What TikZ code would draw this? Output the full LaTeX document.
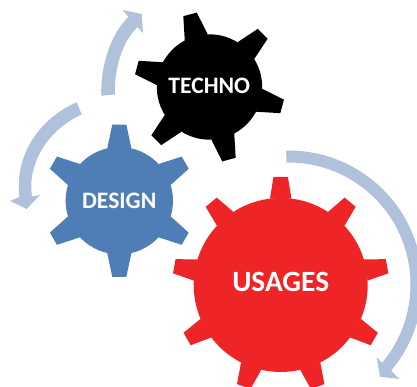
\documentclass[tikz,border=0pt]{standalone}
\usepackage{fontspec}
\setmainfont{Carlito}
\definecolor{gearblue}{HTML}{4F7EB6}
\definecolor{gearred}{HTML}{EE2426}
\definecolor{arrowblue}{HTML}{B0C1DB}
% center, body radius, tip radius, base half angle, tip half angle, angle list, colour
\newcommand{\gearwheel}[7]{%
  \begin{scope}[shift={#1}]
    \fill[#7] (0,0) circle[radius=#2];
    \foreach \a in {#6} {
      \fill[#7] (\a-#4:#2) -- (\a-#5:#3) -- (\a+#5:#3) -- (\a+#4:#2) -- cycle;
    }
  \end{scope}
}
\begin{document}
\begin{tikzpicture}[
        x=1pt, y=1pt,
        gearlabel/.style={text=white, inner sep=0pt, font=\bfseries\fontsize{23.6}{24}\selectfont},
        biglabel/.style={gearlabel, font=\bfseries\fontsize{29.4}{30}\selectfont},
        sweep/.style={fill=arrowblue}
    ]
        \useasboundingbox (0,0) rectangle (417,387);
        \clip (0,0) rectangle (417,387);

        % Gears
        \gearwheel{(209.5,300)}{52.7}{75.5}{13}{5.3}{45,105,165,225,285,345}{black}
        \gearwheel{(119.3,186.3)}{53.7}{76.4}{13}{5.3}{30,90,150,210,270,330}{gearblue}
        \gearwheel{(280.7,102)}{87}{108.3}{7.1}{3.8}{90,50,10,-30,-70,-110,-150,170,130}{gearred}

        % Labels
        \node[gearlabel] (techno) at (209.3,301) {TECHNO};
        \node[gearlabel] (design) at (119.2,186.3) {DESIGN};
        \node[biglabel] (usages) at (280.7,105.3) {USAGES};

        % Arrows
        \fill[sweep] (101.3,291.3) .. controls (100,322) and (112,355) .. (128.5,370)
            -- (122.7,377) -- (141.7,373) -- (143,353.7) -- (137.5,360)
            .. controls (123,346) and (114,320) .. (115,292.5) -- cycle;
        \fill[sweep] (76.7,284.7) .. controls (40,269) and (14,232) .. (19.5,190)
            -- (10,186) -- (26.7,178) -- (40,192) -- (32,190.5)
            .. controls (27,224) and (48,257) .. (81.7,272.7) -- cycle;
        \fill[sweep] ([shift={(288.5,102.5)}]91:134) arc[start angle=91, end angle=-40, radius=134]
            -- (399.3,8) -- (380,10.3) -- (376.7,29.7)
            -- ([shift={(288.5,102.5)}]-40:122) arc[start angle=-40, end angle=91, radius=122] -- cycle;
    \end{tikzpicture}
\end{document}
